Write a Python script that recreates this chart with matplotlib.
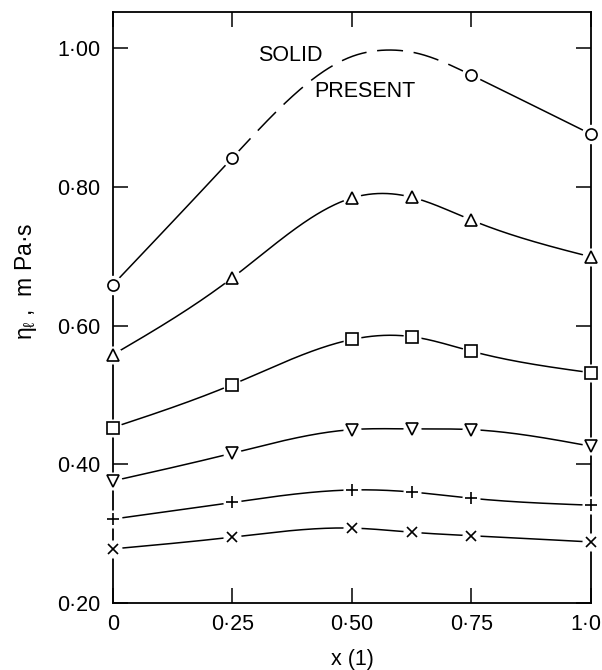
import matplotlib
matplotlib.use("Agg")
import matplotlib.pyplot as plt
import matplotlib.transforms as mtransforms
import numpy as np

# mole fraction x(1) and viscosity readings, one list per isotherm
x_pts = [0.0, 0.25, 0.50, 0.625, 0.75, 1.0]
circle_x = [0.0, 0.25, 0.75, 1.0]
circle_y = [0.659, 0.842, 0.961, 0.876]
solid_x = [0.41, 0.50, 0.565, 0.64]
solid_y = [0.951, 0.988, 0.997, 0.992]
tri_up = [0.558, 0.669, 0.784, 0.785, 0.752, 0.699]
square = [0.453, 0.515, 0.580, 0.584, 0.563, 0.532]
tri_down = [0.376, 0.416, 0.450, 0.451, 0.450, 0.426]
plus = [0.321, 0.345, 0.363, 0.360, 0.351, 0.341]
cross = [0.278, 0.295, 0.308, 0.302, 0.297, 0.288]

xticks = [0, 0.25, 0.50, 0.75, 1.0]
xticklabels = ["0", "0·25", "0·50", "0·75", "1·0"]
yticks = [0.20, 0.40, 0.60, 0.80, 1.00]
yticklabels = ["0·20", "0·40", "0·60", "0·80", "1·00"]

plt.rcParams['font.family'] = ["Liberation Sans", "DejaVu Sans"]
plt.rcParams['mathtext.fontset'] = "custom"
plt.rcParams['mathtext.rm'] = "Liberation Sans"
plt.rcParams['mathtext.it'] = "Liberation Sans"


# natural cubic spline through the knots, evaluated on xs
def spline(xk, yk, xs):
    xk = np.asarray(xk, float)
    yk = np.asarray(yk, float)
    n = len(xk)
    h = np.diff(xk)
    A = np.zeros((n, n))
    b = np.zeros(n)
    A[0, 0] = 1
    A[-1, -1] = 1
    for i in range(1, n - 1):
        A[i, i - 1] = h[i - 1]
        A[i, i] = 2 * (h[i - 1] + h[i])
        A[i, i + 1] = h[i]
        b[i] = 6 * ((yk[i + 1] - yk[i]) / h[i] - (yk[i] - yk[i - 1]) / h[i - 1])
    m = np.linalg.solve(A, b)
    idx = np.clip(np.searchsorted(xk, xs) - 1, 0, n - 2)
    x0, x1 = xk[idx], xk[idx + 1]
    hh = x1 - x0
    t0 = x1 - xs
    t1 = xs - x0
    return (m[idx] * t0 ** 3 / (6 * hh) + m[idx + 1] * t1 ** 3 / (6 * hh)
            + (yk[idx] / hh - m[idx] * hh / 6) * t0
            + (yk[idx + 1] / hh - m[idx + 1] * hh / 6) * t1)


fig = plt.figure(figsize=(6.02, 6.70), dpi=100)
ax = fig.add_axes([0.1877, 0.1, 0.794, 0.882])

lw = 1.1
xs = np.linspace(0, 1, 400)

# top curve: solid line, dashed where solid is present
kx = [circle_x[0], circle_x[1]] + solid_x + [circle_x[2], circle_x[3]]
ky = [circle_y[0], circle_y[1]] + solid_y + [circle_y[2], circle_y[3]]
top = spline(kx, ky, xs)
inner = (xs >= 0.25) & (xs <= 0.75)
ax.plot(xs[xs <= 0.25], top[xs <= 0.25], color="black", lw=lw)
ax.plot(xs[xs >= 0.75], top[xs >= 0.75], color="black", lw=lw)
ax.plot(xs[inner], top[inner], color="black", lw=lw, dashes=(17, 7))

series = [
    (tri_up, "^", 9),
    (square, "s", 8),
    (tri_down, "v", 9),
    (plus, "+", 8),
    (cross, "x", 7),
]
for ys, mk, ms in series:
    ax.plot(xs, spline(x_pts, ys, xs), color="black", lw=lw)

# white halos break the lines around each symbol
ax.plot(circle_x, circle_y, "o", ms=13, color="white", clip_on=False, zorder=3)
for ys, mk, ms in series:
    ax.plot(x_pts, ys, "o", ms=12, color="white", clip_on=False, zorder=3)

ax.plot(circle_x, circle_y, "o", ms=8, mfc="white", mec="black", mew=1.2,
        clip_on=False, zorder=4)
for ys, mk, ms in series:
    ax.plot(x_pts, ys, mk, ms=ms, mfc="white", mec="black", mew=1.2,
            clip_on=False, zorder=4)

ax.text(0.370, 0.990, "SOLID", fontsize=15.5, ha="center", va="center")
ax.text(0.527, 0.938, "PRESENT", fontsize=15.5, ha="center", va="center")

ax.set_xlim(0, 1.0)
ax.set_ylim(0.2, 1.052)
ax.set_xticks(xticks)
ax.set_xticklabels(xticklabels)
ax.set_yticks(yticks)
ax.set_yticklabels(yticklabels)
ax.tick_params(direction="in", length=11, width=1.1, labelsize=15.5,
               top=True, right=True)
ax.tick_params(axis="y", pad=9)
ax.tick_params(axis="x", pad=8)
for s in ax.spines.values():
    s.set_linewidth(1.3)

# keep the last x label inside the figure edge
last = ax.get_xticklabels()[-1]
last.set_transform(last.get_transform() +
                   mtransforms.ScaledTranslation(-5 / 100, 0, fig.dpi_scale_trans))

ax.set_xlabel("x (1)", fontsize=15.5, labelpad=10)
ax.set_ylabel(r"$\eta_\ell$ ,  m Pa·s", fontsize=16.5, labelpad=14)
ax.yaxis.set_label_coords(-0.155, 0.545)

fig.savefig("out.png", dpi=100)
